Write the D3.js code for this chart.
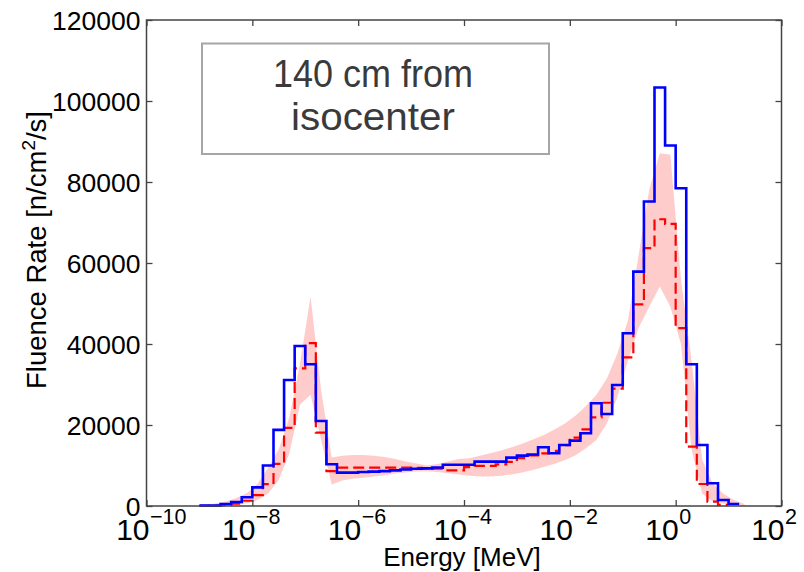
<!DOCTYPE html>
<html><head><meta charset="utf-8">
<script src="https://cdn.jsdelivr.net/npm/d3@7"></script>
<style>body{margin:0;background:#fff}svg{display:block}</style>
</head><body><svg id="c" width="804" height="572"></svg>
<script>
// ---- data (energy bin edges in log10 MeV) ----
const binEdgesLog = [-9.0,-8.8,-8.6,-8.4,-8.2,-8.0,-7.8,-7.6,-7.4,-7.2,-7.0,-6.8,-6.6,-6.4,-6.2,-6.0,-5.8,-5.6,-5.4,-5.2,-5.0,-4.8,-4.6,-4.4,-4.2,-4.0,-3.8,-3.6,-3.4,-3.2,-3.0,-2.8,-2.6,-2.4,-2.2,-2.0,-1.8,-1.6,-1.4,-1.2,-1.0,-0.8,-0.6,-0.4,-0.2,0.0,0.2,0.4,0.6,0.8,1.0,1.2];
const blueValues = [100,100,500,1000,2150,4600,10000,18800,31100,39500,35000,21000,10300,8230,8230,8400,8500,8600,8800,9000,9200,9300,9500,10200,10200,10200,10950,10950,10950,11940,12430,12700,14490,13010,15070,16140,17950,25360,22720,29890,42650,57870,75170,103330,89000,78460,35000,15070,5600,1480,500];
const redValues = [50,100,200,600,1300,2700,5400,10400,19300,34000,40200,18100,8600,9500,9500,9500,9500,9500,9500,9500,9400,9300,9200,8800,8800,9600,9900,9900,10300,10900,11800,12500,13000,13600,15000,16900,18900,21900,25500,29000,36700,49800,63650,70800,69650,43900,14650,5430,1100,300];
const bandCentersLog = [-8.9,-8.7,-8.5,-8.3,-8.1,-7.9,-7.7,-7.5,-7.3,-7.1,-6.9,-6.7,-6.5,-6.3,-6.1,-5.9,-5.7,-5.5,-5.3,-5.1,-4.9,-4.7,-4.5,-4.3,-4.1,-3.9,-3.7,-3.5,-3.3,-3.1,-2.9,-2.7,-2.5,-2.3,-2.1,-1.9,-1.7,-1.5,-1.3,-1.1,-0.9,-0.7,-0.5,-0.3,-0.1,0.1,0.3,0.5,0.7,0.9,1.1,1.3];
const bandLow = [0,0,100,300,700,1500,3100,6500,13000,25000,27500,16300,5300,6300,6700,7000,7300,7600,8000,8300,8500,8600,8400,8100,7800,7500,7300,7300,7500,7800,8300,8900,9600,10400,11300,12500,14200,16300,20400,27000,36000,44000,49200,54200,49200,40000,14000,3000,1200,600,300,0];
const bandHigh = [300,600,1100,2000,3200,5500,9500,14000,22000,35000,51700,28600,12000,12400,12600,12600,12400,12100,11600,11000,10500,10000,10400,11000,11600,11800,12400,13000,13700,14500,15400,16400,17500,18800,20300,22200,24600,27400,31500,37700,45900,62000,78000,87100,86700,56000,36000,11500,5500,3000,1500,500];
const yTicks = [0,20000,40000,60000,80000,100000,120000];
const xTickExps = [-10,-8,-6,-4,-2,0,2];
const annotationLines = ["140 cm from","isocenter"];
const xTitle = "Energy [MeV]";

// ---- layout ----
const L = 146.5, R = 781.5, T = 20, B = 506;
const FONT = "'Liberation Sans', Arial, Helvetica, sans-serif";
const svg = d3.select("#c");
svg.append("rect").attr("width",804).attr("height",572).attr("fill","#fff");

const x = d3.scaleLog().domain([1e-10,1e2]).range([L,R]);
const y = d3.scaleLinear().domain([0,120000]).range([B,T]);

// band
const band = bandCentersLog.map((c,i)=>({e:Math.pow(10,c),lo:bandLow[i],hi:bandHigh[i]}));
svg.append("path").datum(band)
  .attr("d", d3.area().x(d=>x(d.e)).y0(d=>y(d.lo)).y1(d=>y(d.hi)))
  .attr("fill","#ffcccc").attr("stroke","none");

function stepPoints(vals){
  const pts = vals.map((v,i)=>[Math.pow(10,binEdgesLog[i]), v]);
  pts.push([Math.pow(10,binEdgesLog[vals.length]), vals[vals.length-1]]);
  return pts;
}
const stepLine = d3.line().x(d=>x(d[0])).y(d=>y(d[1])).curve(d3.curveStepAfter);

svg.append("path").datum(stepPoints(redValues)).attr("d",stepLine)
  .attr("fill","none").attr("stroke","#ff0000").attr("stroke-width",2.2)
  .attr("stroke-dasharray","11,5");
svg.append("path").datum(stepPoints(blueValues)).attr("d",stepLine)
  .attr("fill","none").attr("stroke","#0000ff").attr("stroke-width",2.6)
  .attr("stroke-linejoin","miter");

// axes frame
const axisColor = "#444";
svg.append("rect").attr("x",L).attr("y",T).attr("width",R-L).attr("height",B-T)
  .attr("fill","none").attr("stroke",axisColor).attr("stroke-width",1.5);

const tl = 6;
const yAxisL = svg.append("g").attr("transform",`translate(${L},0)`)
  .call(d3.axisRight(y).tickValues(yTicks).tickSize(tl).tickFormat(""));
const yAxisR = svg.append("g").attr("transform",`translate(${R},0)`)
  .call(d3.axisLeft(y).tickValues(yTicks).tickSize(tl).tickFormat(""));
const xTickVals = xTickExps.map(e=>Math.pow(10,e));
const xAxisB = svg.append("g").attr("transform",`translate(0,${B})`)
  .call(d3.axisTop(x).tickValues(xTickVals).tickSize(tl).tickFormat(""));
const xAxisT = svg.append("g").attr("transform",`translate(0,${T})`)
  .call(d3.axisBottom(x).tickValues(xTickVals).tickSize(tl).tickFormat(""));
[yAxisL,yAxisR,xAxisB,xAxisT].forEach(g=>{
  g.select(".domain").remove();
  g.selectAll(".tick line").attr("stroke",axisColor).attr("stroke-width",1.3);
});

// y tick labels
svg.append("g").selectAll("text").data(yTicks).join("text")
  .attr("x",L-6).attr("y",d=>y(d)).attr("dy","0.36em")
  .attr("text-anchor","end").attr("font-family",FONT).attr("font-size",26.5)
  .attr("fill","#000").text(d=>d3.format("d")(d));

// x tick labels: base "10" ends just right of the tick, exponent follows
const xlg = svg.append("g").selectAll("g").data(xTickExps).join("g")
  .attr("transform",d=>`translate(${x(Math.pow(10,d))},0)`);
xlg.append("text").attr("x",3).attr("y",540).attr("text-anchor","end")
  .attr("font-family",FONT).attr("font-size",30).attr("fill","#000").text("10");
xlg.append("text").attr("x",3.5).attr("y",524).attr("text-anchor","start")
  .attr("font-family",FONT).attr("font-size",21.5).attr("fill","#000")
  .text(d=>d<0 ? "\u2212"+Math.abs(d) : String(d));

// axis titles
svg.append("text").attr("x",(L+R)/2 - 2).attr("y",566).attr("text-anchor","middle")
  .attr("font-family",FONT).attr("font-size",26).attr("fill","#000").text(xTitle);
const yt = svg.append("text").attr("transform",`translate(46,250) rotate(-90)`)
  .attr("text-anchor","middle").attr("font-family",FONT).attr("font-size",27.5).attr("fill","#000");
yt.append("tspan").text("Fluence Rate [n/cm");
yt.append("tspan").attr("font-size",19).attr("dy",-11).text("2");
yt.append("tspan").attr("dy",11).text("/s]");

// annotation box
svg.append("rect").attr("x",202).attr("y",43.5).attr("width",347).attr("height",110.5)
  .attr("fill","#fff").attr("stroke","#a6a6a6").attr("stroke-width",2);
const annWidths = [200, 164];
svg.append("g").selectAll("text").data(annotationLines).join("text")
  .attr("x",373).attr("y",(d,i)=>87+i*43).attr("text-anchor","middle")
  .attr("font-family",FONT).attr("font-size",39).attr("fill","#3a3a3a")
  .attr("textLength",(d,i)=>annWidths[i]).attr("lengthAdjust","spacingAndGlyphs")
  .text(d=>d);
</script></body></html>
